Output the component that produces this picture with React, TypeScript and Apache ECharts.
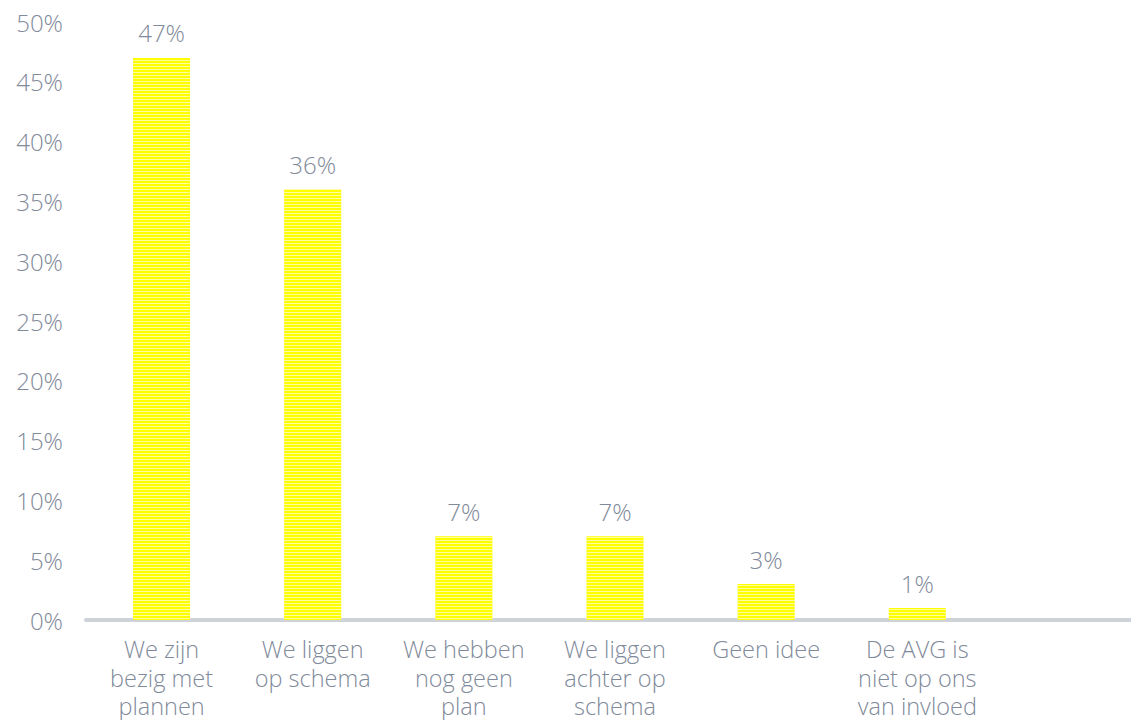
import React, { useEffect, useRef } from "react";
import * as echarts from "echarts";

const categories = [
  "We zijn\nbezig met\nplannen",
  "We liggen\nop schema",
  "We hebben\nnog geen\nplan",
  "We liggen\nachter op\nschema",
  "Geen idee",
  "De AVG is\nniet op ons\nvan invloed",
  "",
];
const values: (number | null)[] = [47, 36, 7, 7, 3, 1, null];
const yTicks = [0, 5, 10, 15, 20, 25, 30, 35, 40, 45, 50];

const FONT = "'Open Sans', Lato, sans-serif";
const TEXT = "#7f8a9a";

export default function App() {
  const ref = useRef<HTMLDivElement>(null);
  useEffect(() => {
    if (!ref.current) return;
    const chart = echarts.init(ref.current, undefined, { renderer: "svg" });
    chart.setOption({
      animation: false,
      grid: {
        left: 86,
        top: 22,
        width: 1058,
        height: 598,
        containLabel: false,
        outerBoundsMode: "none",
      },
      xAxis: {
        type: "category",
        data: categories,
        axisLine: { show: true, lineStyle: { color: "#ced2d9", width: 4 } },
        axisTick: { show: false },
        axisLabel: {
          interval: 0,
          margin: 15,
          color: TEXT,
          fontFamily: FONT,
          fontWeight: 300,
          fontSize: 23.5,
          lineHeight: 28.5,
        },
      },
      yAxis: {
        type: "value",
        min: yTicks[0],
        max: yTicks[yTicks.length - 1],
        interval: 5,
        splitLine: { show: false },
        axisLine: { show: false },
        axisTick: { show: false },
        axisLabel: {
          margin: 23,
          color: TEXT,
          fontFamily: FONT,
          fontWeight: 300,
          fontSize: 24,
          formatter: (v: number) => `${v}%`,
        },
      },
      series: [
        {
          type: "bar",
          data: values,
          barWidth: 57,
          itemStyle: {
            color: "#ffff00",
            decal: {
              symbol: "rect",
              dashArrayX: [1, 0],
              dashArrayY: [1, 2],
              symbolSize: 1,
              rotation: 0,
              color: "rgba(255,255,255,0.6)",
            },
          },
          label: {
            show: true,
            position: "top",
            distance: 13,
            color: TEXT,
            fontFamily: FONT,
            fontWeight: 300,
            fontSize: 24,
            formatter: (p: any) => `${p.value}%`,
          },
        },
      ],
    });
    return () => chart.dispose();
  }, []);
  return (
    <div
      ref={ref}
      style={{ position: "fixed", left: 0, top: 0, width: 1131, height: 720, background: "#fff" }}
    />
  );
}
